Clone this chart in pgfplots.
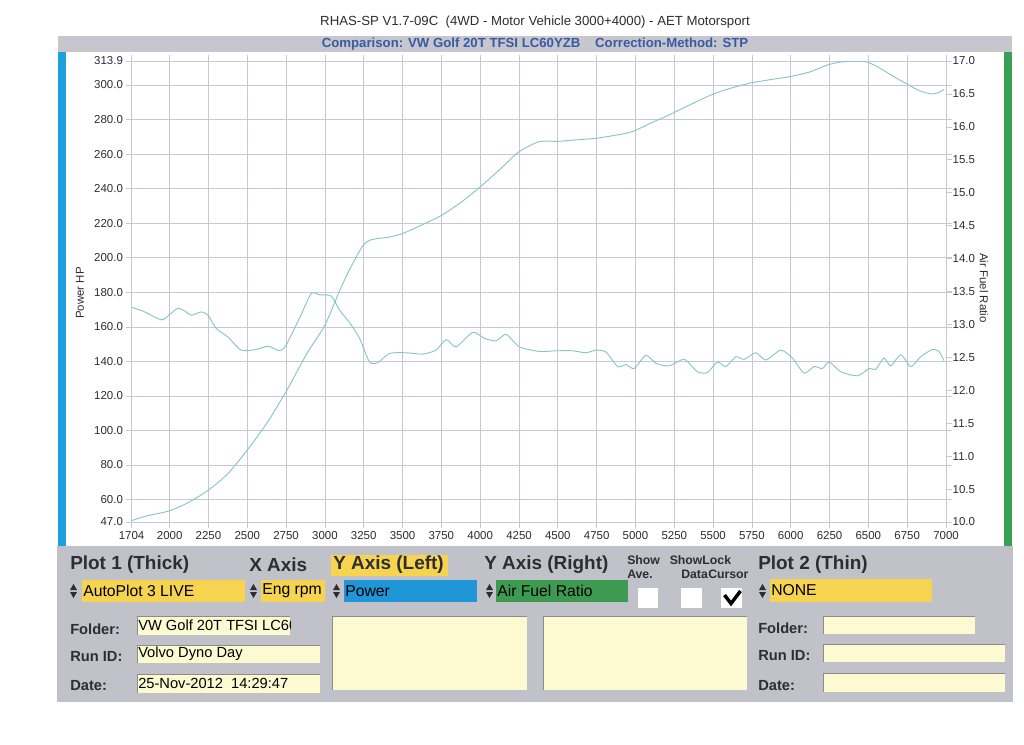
\documentclass[border=0pt]{standalone}
\usepackage{pgfplots}
\pgfplotsset{compat=1.18}
\usepackage{fontspec}
\setmainfont{Liberation Sans}
\definecolor{gridc}{RGB}{200,200,210}
\definecolor{curve}{RGB}{135,198,200}
\definecolor{band}{RGB}{198,198,204}
\definecolor{panel}{RGB}{192,193,201}
\definecolor{barblue}{RGB}{30,160,220}
\definecolor{bargreen}{RGB}{55,160,85}
\definecolor{fieldyel}{RGB}{246,212,80}
\definecolor{pale}{RGB}{253,249,208}
\definecolor{boxblue}{RGB}{30,150,215}
\definecolor{boxgreen}{RGB}{60,155,80}
\definecolor{ctitle}{RGB}{55,90,165}
\definecolor{dk}{RGB}{45,45,50}
\newcommand{\updown}[2]{%
  \fill[dk] (#1,#2-1) -- (#1+7,#2-1) -- (#1+3.5,#2-7) -- cycle;
  \fill[dk] (#1,#2+1) -- (#1+7,#2+1) -- (#1+3.5,#2+7) -- cycle;}
\newcommand{\paleField}[4]{%
  \fill[pale] (#1,#2) rectangle (#3,#4);
  \draw[black!45,line width=0.5pt] (#1,#4) -- (#1,#2) -- (#3,#2);}
\begin{document}
\begin{tikzpicture}
\path[use as bounding box] (0,0) rectangle (768pt,-558pt);
\begin{scope}[x=0.75pt,y=-0.75pt]
\fill[white] (0,0) rectangle (1024,744);
% title
\node[font=\fontsize{9.9}{11}\selectfont, text=dk] at (535,22) {RHAS-SP V1.7-09C\ \ (4WD - Motor Vehicle 3000+4000) - AET Motorsport};
\fill[band] (58,36) rectangle (1012,52);
\node[font=\bfseries\fontsize{9.9}{11}\selectfont, text=ctitle] at (535,44.5) {Comparison: VW Golf 20T TFSI LC60YZB\ \ \ \ Correction-Method: STP};
\fill[barblue] (58,52) rectangle (66,546);
\fill[bargreen] (1004,52) rectangle (1012,546);
% axis labels
\node[rotate=90, font=\fontsize{8.6}{10}\selectfont, text=dk] at (80,293) {Power HP};
\node[rotate=-90, font=\fontsize{8.6}{10}\selectfont, text=dk] at (984,288) {Air Fuel Ratio};
% panel
\fill[panel] (57,546) rectangle (1013,702);
\begin{scope}[every node/.style={inner sep=0pt, anchor=west, text=dk}]
\node[font=\bfseries\fontsize{14.2}{16}\selectfont] at (70,565) {Plot 1 (Thick)};
\node[font=\bfseries\fontsize{14.2}{16}\selectfont] at (249,565) {X Axis};
\fill[fieldyel] (331,555) rectangle (448,576);
\node[font=\bfseries\fontsize{14.2}{16}\selectfont] at (333,565) {Y Axis (Left)};
\node[font=\bfseries\fontsize{14.2}{16}\selectfont] at (484,565) {Y Axis (Right)};
\node[font=\bfseries\fontsize{9.2}{10}\selectfont] at (627,560.5) {Show};
\node[font=\bfseries\fontsize{9.2}{10}\selectfont] at (627,574.5) {Ave.};
\node[font=\bfseries\fontsize{9.2}{10}\selectfont] at (669.5,560.5) {ShowLock};
\node[font=\bfseries\fontsize{9.2}{10}\selectfont] at (681,574.5) {Data};
\node[font=\bfseries\fontsize{9.2}{10}\selectfont] at (708,574.5) {Cursor};
\node[font=\bfseries\fontsize{14.2}{16}\selectfont] at (758,565) {Plot 2 (Thin)};
% selector row
\updown{70}{591}
\fill[fieldyel] (82,580) rectangle (245,602);
\node[font=\fontsize{11.8}{14}\selectfont, text=black] at (83,591) {AutoPlot 3 LIVE};
\updown{250}{591}
\fill[fieldyel] (261,580) rectangle (325,602);
\node[font=\fontsize{11.8}{14}\selectfont, text=black] at (262,591) {Eng rpm};
\updown{333}{591}
\fill[boxblue] (344,580) rectangle (477,602);
\node[font=\fontsize{11.8}{14}\selectfont, text=black] at (345,591) {Power};
\updown{486}{591}
\fill[boxgreen] (496,580) rectangle (628,602);
\node[font=\fontsize{11.8}{14}\selectfont, text=black] at (497,591) {Air Fuel Ratio};
\fill[white] (638,588) rectangle (658,608);
\fill[white] (681,588) rectangle (702,608);
\fill[white] (721,588) rectangle (742,608);
\draw[black, line width=2.6pt] (724.5,595) -- (731,603.5) -- (740.5,591);
\updown{759}{591}
\fill[fieldyel] (770,579) rectangle (932,602);
\node[font=\fontsize{11.8}{14}\selectfont, text=black] at (771,590.5) {NONE};
% left info
\node[font=\bfseries\fontsize{11}{13}\selectfont] at (70,629.5) {Folder:};
\node[font=\bfseries\fontsize{11}{13}\selectfont] at (70,656.5) {Run ID:};
\node[font=\bfseries\fontsize{11}{13}\selectfont] at (70,686) {Date:};
\paleField{137}{616}{290}{635}
\paleField{137}{645}{320}{663}
\paleField{137}{674}{320}{693}
\begin{scope}
\clip (137,616) rectangle (290,635);
\node[font=\fontsize{11}{13}\selectfont, text=black] at (138,625.5) {VW Golf 20T TFSI LC60YZB};
\end{scope}
\node[font=\fontsize{11}{13}\selectfont, text=black] at (138,653.5) {Volvo Dyno Day};
\node[font=\fontsize{11}{13}\selectfont, text=black] at (138,683) {25-Nov-2012\ \ 14:29:47};
\paleField{332}{616}{527}{690}
\paleField{543}{616}{747}{690}
% right info
\node[font=\bfseries\fontsize{11}{13}\selectfont] at (758,628.5) {Folder:};
\node[font=\bfseries\fontsize{11}{13}\selectfont] at (758,655.5) {Run ID:};
\node[font=\bfseries\fontsize{11}{13}\selectfont] at (758,685.5) {Date:};
\paleField{823}{616}{975}{634}
\paleField{823}{644}{1005}{662}
\paleField{823}{673}{1005}{692}
\end{scope}
\end{scope}
% ---------------- axes ----------------
\begin{axis}[
  at={(98.7pt,-391.5pt)}, anchor=south west, scale only axis,
  width=610.8pt, height=345.75pt,
  xmin=1755, xmax=7000, ymin=47, ymax=313.9,
  axis line style={draw=gridc}, grid=major, grid style={draw=gridc, line width=0.5pt},
  tick style={draw=gridc, line width=0.5pt}, tick align=outside, major tick length=4.5pt,
  xtick={1755,2000,2250,2500,2750,3000,3250,3500,3750,4000,4250,4500,4750,5000,5250,5500,5750,6000,6250,6500,6750,7000},
  xticklabels={1704,2000,2250,2500,2750,3000,3250,3500,3750,4000,4250,4500,4750,5000,5250,5500,5750,6000,6250,6500,6750,7000},
  ytick={47,60,80,100,120,140,160,180,200,220,240,260,280,300,313.9},
  yticklabels={47.0,60.0,80.0,100.0,120.0,140.0,160.0,180.0,200.0,220.0,240.0,260.0,280.0,300.0,313.9},
  ticklabel style={font=\fontsize{8.6}{10}\selectfont, text=dk},
  xticklabel style={yshift=1pt},
  yticklabel style={xshift=1.5pt},
  clip=true,
]
\addplot[curve, line width=0.7pt, smooth, tension=0.4] coordinates {
(1755,47.8) (1850,50.5) (2000,53.5) (2125,58.5) (2250,65.5) (2375,75) (2500,88.7)
(2625,104.1) (2750,122.5) (2885,144.7) (3000,161) (3100,182) (3158,193) (3244,207)
(3300,210.5) (3416,212) (3500,214) (3625,219) (3750,224.5) (3875,232) (4000,241)
(4125,251) (4250,261.4) (4380,267.2) (4500,267.4) (4625,268.3) (4750,269.2) (4875,271)
(4980,273) (5100,278) (5217,282.7) (5350,288.5) (5486,294.2) (5600,297.8) (5732,301)
(5860,303) (5990,304.8) (6120,307.5) (6236,311.6) (6320,313.3) (6400,313.8) (6483,313.5)
(6550,311) (6612,307.7) (6680,304) (6741,301) (6800,298) (6848,296.1) (6912,294.8)
(6960,296) (6987,297.5)
};
\end{axis}
\begin{axis}[
  at={(98.7pt,-391.5pt)}, anchor=south west, scale only axis,
  width=610.8pt, height=345.75pt,
  xmin=1755, xmax=7000, ymin=10, ymax=17,
  axis x line=none, axis y line*=right,
  axis line style={draw=gridc},
  tick style={draw=gridc, line width=0.5pt}, tick align=outside, major tick length=4.5pt,
  ytick={10,10.5,11,11.5,12,12.5,13,13.5,14,14.5,15,15.5,16,16.5,17},
  yticklabels={10.0,10.5,11.0,11.5,12.0,12.5,13.0,13.5,14.0,14.5,15.0,15.5,16.0,16.5,17.0},
  ticklabel style={font=\fontsize{8.6}{10}\selectfont, text=dk},
  yticklabel style={xshift=-3pt},
]
\addplot[curve, line width=0.7pt, smooth, tension=0.4] coordinates {
(1755,13.26) (1830,13.2) (1947,13.07) (2000,13.15) (2053,13.245) (2100,13.2) (2140,13.14)
(2204,13.19) (2247,13.14) (2300,12.94) (2375,12.81) (2461,12.61) (2558,12.62) (2633,12.67)
(2708,12.60) (2751,12.69) (2837,13.10) (2912,13.47) (2965,13.45) (3041,13.43) (3094,13.22)
(3158,13.03) (3223,12.79) (3287,12.43) (3340,12.42) (3416,12.56) (3523,12.57) (3630,12.55)
(3716,12.61) (3780,12.77) (3845,12.66) (3952,12.88) (4027,12.79) (4102,12.75) (4167,12.85)
(4252,12.66) (4381,12.59) (4488,12.60) (4595,12.60) (4681,12.57) (4746,12.61) (4810,12.58)
(4885,12.36) (4939,12.39) (4992,12.33) (5067,12.53) (5132,12.41) (5217,12.37) (5314,12.47)
(5400,12.28) (5464,12.27) (5528,12.43) (5582,12.36) (5646,12.51) (5700,12.47) (5775,12.57)
(5839,12.46) (5936,12.61) (6011,12.49) (6086,12.26) (6151,12.36) (6204,12.33) (6247,12.43)
(6323,12.28) (6430,12.22) (6505,12.33) (6548,12.32) (6601,12.49) (6644,12.37) (6709,12.54)
(6773,12.36) (6837,12.51) (6912,12.62) (6955,12.59) (6987,12.45)
};
\end{axis}
\end{tikzpicture}
\end{document}
